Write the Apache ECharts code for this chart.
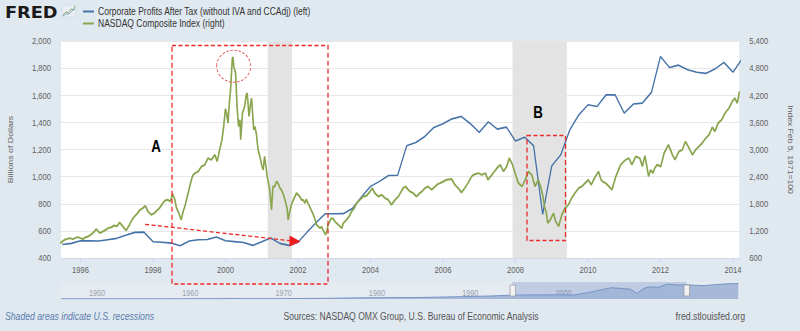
<!DOCTYPE html>
<html>
<head>
<meta charset="utf-8">
<script src="https://cdn.jsdelivr.net/npm/echarts@6/dist/echarts.min.js"></script>
<style>
html,body{margin:0;padding:0;background:#e1e9f0;overflow:hidden;}
#wrap{width:800px;height:331px;overflow:hidden;position:relative;}
#chart{width:988px;height:331px;transform:scaleX(0.809717);transform-origin:0 0;}
</style>
</head>
<body>
<div id="wrap"><div id="chart"></div></div>
<script>
// ---- data ----
const profitQuarters = [1995.5,1995.75,1996,1996.25,1996.5,1996.75,1997,1997.25,1997.5,1997.75,
 1998,1998.25,1998.5,1998.75,1999,1999.25,1999.5,1999.75,2000,2000.25,2000.5,2000.75,
 2001,2001.25,2001.5,2001.75,2002,2002.25,2002.5,2002.75,2003,2003.25,2003.5,2003.75,
 2004,2004.25,2004.5,2004.75,2005,2005.25,2005.5,2005.75,2006,2006.25,2006.5,2006.75,
 2007,2007.25,2007.5,2007.75,2008,2008.25,2008.5,2008.75,2009,2009.25,2009.5,2009.75,
 2010,2010.25,2010.5,2010.75,2011,2011.25,2011.5,2011.75,2012,2012.25,2012.5,2012.75,
 2013,2013.25,2013.5,2013.75,2014,2014.25];
const profitValues = [500,508,527,526,525,535,545,567,589,591,
 520,516,510,491,525,535,536,555,527,521,514,493,
 520,547,508,493,516,590,660,726,726,727,765,850,
 928,965,1008,1010,1227,1252,1296,1363,1390,1426,1444,1392,
 1326,1404,1350,1365,1262,1291,1228,722,1078,1161,1345,1456,
 1530,1517,1603,1603,1468,1535,1542,1621,1886,1805,1822,1788,
 1770,1761,1793,1842,1770,1867];

const nasdaqDates = [1995.44,1995.52,1995.56,1995.63,1995.70,1995.79,1995.86,1995.93,1996.00,1996.07,
 1996.14,1996.21,1996.28,1996.34,1996.44,1996.53,1996.62,1996.70,1996.76,1996.85,1996.94,1997.01,
 1997.08,1997.17,1997.26,1997.35,1997.42,1997.49,1997.56,1997.63,1997.72,1997.79,1997.86,1997.95,
 1998.04,1998.11,1998.18,1998.26,1998.33,1998.41,1998.48,1998.54,1998.60,1998.65,1998.70,1998.78,
 1998.84,1998.88,1998.97,1999.06,1999.10,1999.16,1999.25,1999.34,1999.43,1999.52,1999.61,1999.71,
 1999.77,1999.84,1999.90,1999.94,2000.00,2000.03,2000.07,2000.11,2000.14,2000.19,2000.21,2000.23,
 2000.28,2000.32,2000.36,2000.40,2000.42,2000.47,2000.53,2000.57,2000.60,2000.65,2000.69,2000.72,
 2000.78,2000.81,2000.85,2000.90,2000.95,2001.00,2001.04,2001.08,2001.12,2001.15,2001.20,2001.22,
 2001.27,2001.31,2001.36,2001.41,2001.45,2001.50,2001.54,2001.60,2001.64,2001.70,2001.73,2001.78,
 2001.82,2001.88,2001.96,2002.05,2002.10,2002.14,2002.19,2002.23,2002.28,2002.32,2002.40,2002.46,
 2002.51,2002.56,2002.60,2002.65,2002.69,2002.76,2002.80,2002.83,2002.88,2002.92,2002.97,2003.02,
 2003.11,2003.21,2003.25,2003.34,2003.41,2003.48,2003.55,2003.62,2003.71,2003.80,2003.89,2003.99,
 2004.05,2004.12,2004.22,2004.31,2004.40,2004.49,2004.58,2004.68,2004.77,2004.84,2004.90,2004.97,
 2005.03,2005.09,2005.18,2005.27,2005.36,2005.43,2005.50,2005.59,2005.69,2005.78,2005.85,2005.92,
 2006.01,2006.10,2006.24,2006.33,2006.42,2006.51,2006.60,2006.70,2006.79,2006.84,2006.98,2007.07,
 2007.17,2007.24,2007.35,2007.49,2007.58,2007.67,2007.76,2007.83,2007.92,2007.99,2008.08,2008.18,
 2008.27,2008.36,2008.45,2008.54,2008.63,2008.71,2008.76,2008.80,2008.85,2008.89,2008.96,2009.05,
 2009.11,2009.19,2009.28,2009.37,2009.46,2009.55,2009.64,2009.74,2009.83,2009.92,2010.01,2010.09,
 2010.18,2010.29,2010.36,2010.42,2010.49,2010.58,2010.66,2010.77,2010.90,2011.04,2011.13,2011.21,
 2011.32,2011.43,2011.50,2011.57,2011.62,2011.67,2011.73,2011.79,2011.85,2011.91,2012.01,2012.10,
 2012.22,2012.33,2012.40,2012.51,2012.60,2012.69,2012.79,2012.88,2012.97,2013.06,2013.15,2013.25,
 2013.34,2013.43,2013.50,2013.59,2013.69,2013.78,2013.89,2013.98,2014.05,2014.12,2014.18];
const nasdaqValues = [925,980,1003,1020,1040,1018,1045,1062,1040,1018,
 1060,1077,1110,1150,1239,1150,1187,1225,1261,1280,1320,1300,
 1386,1298,1209,1334,1440,1519,1580,1651,1703,1755,1629,1556,
 1593,1650,1703,1800,1870,1888,1850,2020,1902,1700,1620,1445,
 1650,1740,2035,2330,2430,2477,2514,2625,2662,2809,2772,2883,
 2735,2993,3200,3436,3900,3804,3583,4050,4321,5021,5040,4837,
 4689,3952,3510,3657,3215,3804,3952,4200,4247,3731,4000,4136,
 3436,3510,3362,2993,2846,2650,2551,2846,2600,2404,2200,2109,
 1666,2182,2182,2293,2256,2150,2109,2000,1888,1700,1445,1650,
 1780,1900,2035,1961,1880,1888,1814,1900,1800,1740,1600,1482,
 1334,1300,1260,1290,1224,1113,1200,1334,1408,1482,1470,1408,
 1334,1261,1371,1445,1520,1629,1700,1814,1888,1961,1976,2072,
 2145,2035,1961,1998,1924,1888,1777,1888,1961,2060,2145,2182,
 2120,2072,2035,1961,2035,2080,2145,2182,2109,2182,2230,2256,
 2293,2330,2345,2219,2145,2050,2145,2270,2404,2440,2477,2440,
 2477,2330,2440,2588,2662,2514,2625,2809,2662,2477,2256,2182,
 2330,2514,2440,2182,2330,2145,1950,1740,1600,1371,1445,1592,
 1408,1298,1556,1703,1777,1924,2035,2145,2182,2256,2330,2219,
 2367,2514,2330,2280,2256,2182,2109,2404,2662,2772,2809,2662,
 2846,2809,2625,2860,2650,2404,2551,2477,2600,2662,2625,2920,
 3104,2883,2772,2956,2993,3178,3030,2883,2993,3067,3141,3251,
 3325,3495,3399,3583,3657,3804,3915,4063,4136,4026,4284];

const recessionStarts = [2001.164, 2007.917];
const recessionEnds   = [2001.833, 2009.417];

const xTickYears = [1996,1998,2000,2002,2004,2006,2008,2010,2012,2014];
const navTickYears = [1950,1960,1970,1980,1990,2000,2010];
const navYears  = [1947,1950,1955,1960,1965,1970,1975,1980,1985,1990,1993,1995.5,
 1998,2000,2002,2004,2006,2007,2008,2008.75,2009.5,2010,2011,2012,2013,2014,2015,2016,2017,2018,2019,2019.6];
const navValues = [20,25,28,30,50,45,80,160,180,300,380,500,
 520,530,500,930,1430,1330,1250,720,1350,1530,1470,1880,1770,1800,1740,1700,1810,1900,1950,1950];
const navSelStart = 1995.36, navSelEnd = 2014.04;

const seriesNames = ['Corporate Profits After Tax (without IVA and CCAdj) (left)','NASDAQ Composite Index (right)'];

// ---- chart ----
// the drawing surface is 988 px wide and squeezed to 800 px (the reference is horizontally compressed)
const SX = 988 / 800;
const X = px => px * SX;
const FONT = "'Liberation Sans',Arial,sans-serif";
const LBL = '#5f5f5f';
const XMIN = 1995.463, XMAX = 2014.173;

const zip = (a,b) => a.map((v,i)=>[v,b[i]]);

const chart = echarts.init(document.getElementById('chart'), null, {renderer:'svg', width: 988, height: 331});
const option = {
  backgroundColor: '#e1e9f0',
  animation: false,
  textStyle: {fontFamily: FONT},
  legend: {
    data: seriesNames,
    orient: 'vertical', left: X(83), top: 5.5, padding: 0,
    itemWidth: X(11), itemHeight: 2, itemGap: 0, icon: 'rect',
    textStyle: {fontFamily: FONT, fontSize: 10.5, lineHeight: 12, color: '#333'}
  },
  grid: [
    {left: X(61), right: X(60), top: 41, height: 217, show: true, backgroundColor: '#ffffff', borderWidth: 0},
    {left: X(61), right: X(60), top: 282, height: 17, show: true, backgroundColor: '#e6ebf1', borderWidth: 0}
  ],
  xAxis: [
    {type: 'value', gridIndex: 0, min: XMIN, max: XMAX,
     axisLine: {show: true, lineStyle: {color: '#ccd6eb'}},
     axisTick: {show: true, length: 5, customValues: xTickYears, lineStyle: {color: '#ccd6eb'}},
     axisLabel: {customValues: xTickYears, formatter: v => String(Math.round(v)), color: LBL, fontSize: 9.4, fontFamily: FONT, margin: 7},
     splitLine: {show: false}},
    {type: 'value', gridIndex: 1, min: 1947, max: 2019.78,
     axisLine: {show: false}, axisTick: {show: false},
     axisLabel: {customValues: navTickYears, inside: true, formatter: v => String(Math.round(v)), align: 'left', color: '#9aa3ad', fontSize: 9, fontFamily: FONT, margin: 1},
     splitLine: {show: false}}
  ],
  yAxis: [
    {type: 'value', gridIndex: 0, position: 'left', min: 400, max: 2000, interval: 200,
     name: 'Billions of Dollars', nameLocation: 'middle', nameGap: X(47),
     nameTextStyle: {color: LBL, fontSize: 8.8, fontFamily: FONT},
     axisLine: {show: false}, axisTick: {show: false},
     axisLabel: {color: LBL, fontSize: 9.4, fontFamily: FONT, margin: X(10), formatter: v => v.toLocaleString('en-US')},
     splitLine: {show: true, lineStyle: {color: '#e6e6e6'}}},
    {type: 'value', gridIndex: 0, position: 'right', min: 600, max: 5400, interval: 600,
     name: 'Index Feb 5, 1971=100', nameLocation: 'middle', nameGap: X(47), nameRotate: -90,
     nameTextStyle: {color: LBL, fontSize: 8.6, fontFamily: FONT},
     axisLine: {show: false}, axisTick: {show: false},
     axisLabel: {color: LBL, fontSize: 9.4, fontFamily: FONT, margin: X(10), formatter: v => v.toLocaleString('en-US')},
     splitLine: {show: false}},
    {type: 'value', gridIndex: 1, min: 0, max: 2150, show: false}
  ],
  series: [
    {name: 'recessions', type: 'line', xAxisIndex: 0, yAxisIndex: 0, z: 1, silent: true,
     data: [[XMIN, 400]], showSymbol: false, lineStyle: {opacity: 0},
     markArea: {silent: true, itemStyle: {color: '#e3e3e3'},
       data: recessionStarts.map((s,i)=>[{xAxis: s}, {xAxis: recessionEnds[i]}])}},
    {name: seriesNames[0], type: 'line', xAxisIndex: 0, yAxisIndex: 0, z: 3,
     data: zip(profitQuarters, profitValues), showSymbol: false, color: '#4572a7',
     lineStyle: {width: 1.6, color: '#4572a7'}},
    {name: seriesNames[1], type: 'line', xAxisIndex: 0, yAxisIndex: 1, z: 4,
     data: zip(nasdaqDates, nasdaqValues), showSymbol: false, color: '#89a54e',
     lineStyle: {width: 2, color: '#89a54e'}},
    {name: 'navigator', type: 'line', xAxisIndex: 1, yAxisIndex: 2, z: 2, silent: true,
     data: zip(navYears, navValues), showSymbol: false,
     lineStyle: {width: 1, color: '#6f8fc2'}, areaStyle: {color: '#9fb4d6', opacity: 0.9},
     markArea: {silent: true, itemStyle: {color: 'rgba(102,133,194,0.3)'},
       data: [[{xAxis: navSelStart}, {xAxis: navSelEnd}]]}}
  ],
  graphic: [
    // FRED logo
    {type: 'text', x: X(5), y: 4, scaleX: 1.37, style: {text: 'FRED', fontFamily: "'DejaVu Sans','Liberation Sans',sans-serif", fontWeight: 'bold', fontSize: 16, fill: '#1a1a1a'}},
    {type: 'rect', shape: {x: X(62), y: 5, width: X(14), height: 12}, style: {fill: '#e8eef4', stroke: '#c9d3dd', lineWidth: 0.6}},
    {type: 'polyline', shape: {points: [[X(63),15],[X(66),12],[X(68),13],[X(71),9],[X(73),10],[X(75),6]]}, style: {stroke: '#7fa35a', lineWidth: 1, fill: null}},
    {type: 'polyline', shape: {points: [[X(63),16],[X(66),14],[X(69),14],[X(72),11],[X(75),9]]}, style: {stroke: '#6b8cc0', lineWidth: 0.8, fill: null}},
    // annotations
    {type: 'rect', z: 50, shape: {x: X(172), y: 45.5, width: X(156), height: 238.5}, style: {fill: null, stroke: '#ee2b2b', lineWidth: 1.6, lineDash: [5,3]}},
    {type: 'ellipse', z: 50, shape: {cx: X(233.7), cy: 66.2, rx: X(17), ry: 16}, style: {fill: null, stroke: '#e85a5a', lineWidth: 1.1, lineDash: [3,2]}},
    {type: 'line', z: 50, shape: {x1: X(145), y1: 224.3, x2: X(290), y2: 240.7}, style: {stroke: '#ee2b2b', lineWidth: 1.3, lineDash: [5,3]}},
    {type: 'polygon', z: 50, shape: {points: [[X(289.5),235.5],[X(300.5),241.5],[X(289.5),246.5]]}, style: {fill: '#ee1c1c'}},
    {type: 'rect', z: 50, shape: {x: X(527), y: 135.5, width: X(38.5), height: 105}, style: {fill: null, stroke: '#ee2b2b', lineWidth: 1.6, lineDash: [5,3]}},
    {type: 'text', z: 50, x: X(156), y: 146, style: {text: 'A', fontFamily: FONT, fontWeight: 'bold', fontSize: 16.5, fill: '#000', align: 'center', verticalAlign: 'middle'}},
    {type: 'text', z: 50, x: X(538), y: 111.5, style: {text: 'B', fontFamily: FONT, fontWeight: 'bold', fontSize: 16.5, fill: '#000', align: 'center', verticalAlign: 'middle'}},
    // navigator handles
    {type: 'rect', z: 40, shape: {x: X(510), y: 285, width: X(5.5), height: 11}, style: {fill: '#f2f2f2', stroke: '#999', lineWidth: 0.8}},
    {type: 'rect', z: 40, shape: {x: X(684), y: 285, width: X(5.5), height: 11}, style: {fill: '#f2f2f2', stroke: '#999', lineWidth: 0.8}},
    // footer
    {type: 'text', x: X(5), y: 316, style: {text: 'Shaded areas indicate U.S. recessions', fontFamily: FONT, fontStyle: 'italic', fontSize: 10.7, fill: '#5a7cae', verticalAlign: 'middle'}},
    {type: 'text', x: X(411), y: 316, style: {text: 'Sources: NASDAQ OMX Group, U.S. Bureau of Economic Analysis', fontFamily: FONT, fontSize: 10.6, fill: '#555', align: 'center', verticalAlign: 'middle'}},
    {type: 'text', x: X(745), y: 316, style: {text: 'fred.stlouisfed.org', fontFamily: FONT, fontSize: 10.8, fill: '#555', align: 'right', verticalAlign: 'middle'}}
  ]
};
chart.setOption(option);
</script>
</body>
</html>
